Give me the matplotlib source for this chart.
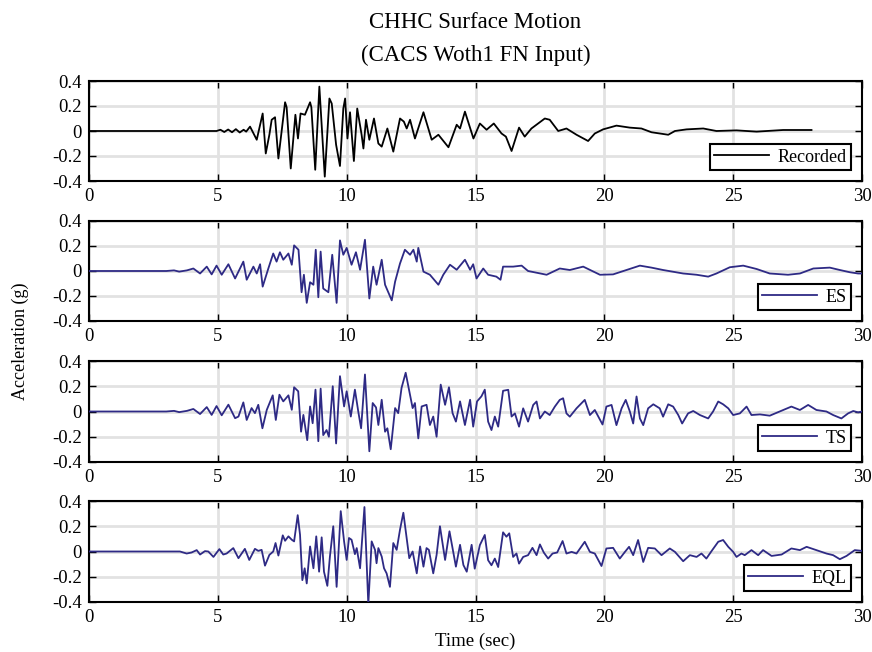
import matplotlib

matplotlib.use("Agg")

import matplotlib.pyplot as plt

plt.rcParams["font.family"] = ["Liberation Serif", "DejaVu Serif"]

# Digitised surface acceleration (g) vs time (sec)
time_rec = [
    0.0, 3.0, 4.95, 5.1, 5.25, 5.4, 5.55, 5.7, 5.85, 6.0,
    6.1, 6.25, 6.51, 6.74, 6.86, 7.0, 7.09, 7.22, 7.35, 7.61,
    7.67, 7.83, 8.01, 8.11, 8.21, 8.38, 8.58, 8.63, 8.78, 8.94,
    9.15, 9.33, 9.42, 9.59, 9.74, 9.87, 9.94, 10.03, 10.13, 10.28,
    10.41, 10.58, 10.65, 10.75, 10.88, 11.06, 11.23, 11.36, 11.58, 11.81,
    12.07, 12.22, 12.33, 12.46, 12.65, 12.98, 13.30, 13.56, 13.95, 14.27,
    14.40, 14.59, 14.92, 15.17, 15.43, 15.71, 16.01, 16.18, 16.40, 16.69,
    16.91, 17.17, 17.69, 17.88, 18.21, 18.53, 18.92, 19.37, 19.63, 19.95,
    20.47, 20.99, 21.44, 21.83, 22.48, 22.74, 23.19, 23.84, 24.35, 25.13,
    25.91, 26.94, 28.04,
]
acc_rec = [
    0.0, 0.0, 0.0, 0.01, -0.008, 0.012, -0.01, 0.015, -0.012, 0.01,
    -0.005, 0.035, -0.07, 0.14, -0.18, -0.03, 0.09, 0.11, -0.22, 0.23,
    0.19, -0.30, 0.13, -0.06, 0.14, 0.13, 0.23, 0.19, -0.31, 0.355,
    -0.365, 0.26, 0.22, -0.11, -0.28, 0.18, 0.26, -0.06, 0.15, -0.24,
    0.18, -0.03, -0.14, 0.09, -0.07, 0.10, -0.10, -0.125, 0.02, -0.165,
    0.10, 0.075, 0.02, 0.09, -0.06, 0.15, -0.07, -0.03, -0.13, 0.05,
    0.02, 0.155, -0.06, 0.06, 0.01, 0.06, -0.02, -0.045, -0.16, 0.027,
    -0.045, 0.02, 0.10, 0.09, 0.0, 0.02, -0.03, -0.08, -0.02, 0.013,
    0.043, 0.027, 0.02, -0.01, -0.03, 0.0, 0.013, 0.02, 0.0, 0.005,
    -0.005, 0.008, 0.008,
]

time_es = [
    0.0, 3.0, 3.3, 3.5, 3.8, 4.05, 4.31, 4.57, 4.76, 4.95,
    5.15, 5.41, 5.67, 5.99, 6.12, 6.38, 6.51, 6.64, 6.74, 6.96,
    7.15, 7.28, 7.41, 7.54, 7.74, 7.87, 7.96, 8.13, 8.25, 8.34,
    8.45, 8.58, 8.71, 8.80, 8.90, 8.99, 9.09, 9.29, 9.44, 9.61,
    9.74, 9.87, 10.0, 10.19, 10.36, 10.52, 10.71, 10.88, 11.03, 11.16,
    11.36, 11.49, 11.75, 11.88, 12.07, 12.26, 12.46, 12.59, 12.72, 12.78,
    12.98, 13.23, 13.56, 13.75, 14.01, 14.27, 14.59, 14.79, 14.91, 15.04,
    15.30, 15.49, 15.81, 15.97, 16.07, 16.46, 16.79, 17.04, 17.76, 18.27,
    18.66, 19.18, 19.83, 20.34, 20.86, 21.38, 21.83, 22.28, 23.06, 23.58,
    24.03, 24.35, 24.87, 25.39, 25.91, 26.42, 27.13, 27.59, 28.11, 28.75,
    29.14, 29.53, 29.85, 30.0,
]
acc_es = [
    0.0, 0.0, 0.005, -0.005, 0.005, 0.02, -0.02, 0.035, -0.027, 0.043,
    -0.03, 0.054, -0.06, 0.075, -0.07, 0.035, -0.02, 0.054, -0.125, 0.02,
    0.14, 0.075, 0.15, 0.09, 0.14, 0.05, 0.205, 0.17, -0.17, -0.03,
    -0.255, -0.09, -0.11, 0.17, -0.21, 0.155, -0.14, -0.17, 0.13, -0.255,
    0.245, 0.13, 0.185, 0.05, 0.15, 0.01, 0.25, -0.22, 0.035, -0.11,
    0.09, -0.11, -0.235, -0.085, 0.06, 0.17, 0.13, 0.17, 0.075, 0.185,
    -0.005, -0.03, -0.11, -0.03, 0.05, 0.01, 0.09, 0.01, 0.054, -0.06,
    0.02, -0.03, -0.045, -0.07, 0.035, 0.035, 0.043, 0.0, -0.03, 0.02,
    0.008, 0.035, -0.03, -0.027, 0.008, 0.043, 0.027, 0.008, -0.02, -0.03,
    -0.045, -0.02, 0.03, 0.043, 0.016, -0.02, -0.03, -0.02, 0.02, 0.027,
    0.008, -0.01, -0.02, -0.02,
]

time_ts = [
    0.0, 3.0, 3.3, 3.5, 3.8, 4.05, 4.31, 4.57, 4.76, 4.95,
    5.15, 5.41, 5.67, 5.80, 5.99, 6.12, 6.31, 6.44, 6.57, 6.73,
    6.90, 7.13, 7.25, 7.39, 7.54, 7.74, 7.87, 7.96, 8.12, 8.23,
    8.32, 8.47, 8.58, 8.68, 8.79, 8.90, 8.99, 9.09, 9.22, 9.31,
    9.46, 9.59, 9.74, 9.90, 10.0, 10.16, 10.32, 10.45, 10.56, 10.71,
    10.88, 11.01, 11.14, 11.23, 11.36, 11.49, 11.58, 11.71, 11.88, 12.0,
    12.13, 12.29, 12.46, 12.56, 12.65, 12.78, 12.91, 13.10, 13.23, 13.36,
    13.49, 13.65, 13.82, 13.97, 14.11, 14.24, 14.40, 14.59, 14.79, 14.91,
    15.06, 15.23, 15.36, 15.49, 15.62, 15.75, 15.88, 16.07, 16.27, 16.40,
    16.53, 16.69, 16.85, 17.04, 17.24, 17.37, 17.50, 17.69, 17.88, 18.08,
    18.27, 18.40, 18.53, 18.66, 18.92, 19.24, 19.44, 19.63, 19.93, 20.08,
    20.28, 20.47, 20.67, 20.83, 20.99, 21.12, 21.25, 21.38, 21.51, 21.70,
    21.90, 22.15, 22.28, 22.48, 22.67, 22.87, 23.02, 23.25, 23.45, 23.71,
    24.03, 24.22, 24.42, 24.61, 24.81, 25.0, 25.26, 25.52, 25.71, 26.04,
    26.42, 26.81, 27.26, 27.59, 27.91, 28.23, 28.62, 28.88, 29.20, 29.46,
    29.66, 29.85, 30.0,
]
acc_ts = [
    0.0, 0.0, 0.005, -0.005, 0.005, 0.02, -0.02, 0.035, -0.027, 0.043,
    -0.03, 0.054, -0.053, -0.04, 0.072, -0.067, 0.027, -0.013, 0.053, -0.133,
    0.013, 0.128, -0.067, 0.133, 0.08, 0.128, 0.013, 0.192, 0.16, -0.16,
    -0.027, -0.227, 0.04, -0.093, 0.173, -0.235, 0.181, -0.187, -0.147, -0.2,
    0.2, -0.253, 0.28, 0.04, 0.16, -0.04, 0.173, 0.0, -0.133, 0.293,
    -0.315, 0.067, 0.032, -0.107, 0.093, -0.16, -0.133, -0.299, 0.027, -0.013,
    0.187, 0.307, 0.133, 0.027, 0.067, -0.213, 0.04, 0.053, -0.107, -0.04,
    -0.2, 0.213, 0.053, 0.192, -0.013, -0.08, 0.08, -0.107, 0.093, -0.12,
    0.08, 0.12, 0.173, -0.08, -0.147, -0.04, -0.12, 0.164, 0.172, -0.04,
    -0.015, -0.12, 0.025, -0.08, 0.052, 0.079, -0.055, 0.0, -0.028, 0.039,
    0.092, 0.105, -0.015, -0.041, 0.025, 0.092, -0.028, 0.012, -0.103, 0.039,
    0.052, -0.108, 0.025, 0.092, 0.0, -0.095, 0.119, -0.055, -0.108, 0.025,
    0.057, 0.025, -0.041, 0.057, 0.039, -0.028, -0.095, -0.015, 0.004, -0.028,
    -0.055, 0.0, 0.079, 0.057, 0.025, -0.028, -0.015, 0.039, -0.028, -0.023,
    -0.033, 0.0, 0.039, 0.012, 0.052, 0.012, 0.0, -0.028, -0.055, -0.015,
    0.004, -0.007, 0.0,
]

time_eql = [
    0.0, 3.53, 3.79, 3.98, 4.18, 4.31, 4.50, 4.63, 4.83, 5.06,
    5.21, 5.34, 5.60, 5.80, 6.05, 6.22, 6.44, 6.57, 6.70, 6.83,
    7.0, 7.15, 7.24, 7.35, 7.52, 7.61, 7.74, 7.87, 7.96, 8.10,
    8.19, 8.28, 8.37, 8.45, 8.58, 8.71, 8.82, 8.93, 9.03, 9.12,
    9.25, 9.35, 9.48, 9.61, 9.77, 9.90, 10.0, 10.09, 10.19, 10.32,
    10.39, 10.52, 10.69, 10.84, 10.97, 11.10, 11.16, 11.23, 11.36, 11.45,
    11.55, 11.68, 11.81, 11.94, 12.07, 12.20, 12.33, 12.43, 12.56, 12.72,
    12.85, 12.98, 13.10, 13.19, 13.36, 13.49, 13.62, 13.82, 13.99, 14.11,
    14.24, 14.40, 14.53, 14.66, 14.85, 14.97, 15.17, 15.36, 15.49, 15.62,
    15.75, 15.88, 16.07, 16.20, 16.31, 16.46, 16.59, 16.69, 16.85, 17.04,
    17.21, 17.37, 17.50, 17.65, 17.82, 17.99, 18.17, 18.38, 18.53, 18.73,
    18.92, 19.24, 19.44, 19.63, 19.89, 20.08, 20.34, 20.60, 20.80, 20.96,
    21.12, 21.31, 21.51, 21.70, 21.96, 22.22, 22.54, 22.74, 23.06, 23.32,
    23.58, 23.77, 23.96, 24.16, 24.42, 24.61, 24.81, 25.0, 25.13, 25.32,
    25.45, 25.71, 25.97, 26.16, 26.49, 26.88, 27.26, 27.59, 27.85, 28.23,
    28.62, 28.88, 29.14, 29.40, 29.72, 30.0,
]
acc_eql = [
    0.0, 0.0, -0.016, -0.008, 0.011, -0.024, 0.003, 0.0, -0.043, 0.019,
    -0.024, -0.016, 0.027, -0.053, 0.021, -0.067, 0.021, 0.005, 0.013, -0.112,
    -0.027, 0.0, 0.067, -0.032, 0.128, 0.085, 0.12, 0.093, 0.08, 0.288,
    0.133, -0.227, -0.133, -0.253, 0.04, -0.133, 0.12, -0.16, 0.112, -0.16,
    -0.272, -0.04, 0.2, -0.28, 0.32, 0.08, -0.067, 0.107, 0.093, -0.021,
    0.027, -0.133, 0.352, -0.42, 0.08, 0.013, -0.093, 0.027, -0.04, -0.133,
    -0.173, -0.28, 0.067, 0.013, 0.173, 0.307, 0.107, -0.053, 0.0, -0.173,
    0.04, -0.12, 0.027, 0.013, -0.173, -0.027, 0.2, -0.067, 0.16, 0.027,
    -0.12, 0.053, -0.107, -0.16, 0.053, -0.136, 0.051, 0.131, -0.069, -0.109,
    -0.056, -0.123, 0.152, 0.117, 0.144, -0.043, -0.016, -0.096, -0.043, -0.029,
    0.029, -0.029, 0.056, -0.008, -0.056, -0.016, -0.008, 0.083, -0.016, -0.003,
    -0.016, 0.077, -0.003, -0.016, -0.115, 0.024, 0.029, -0.056, -0.003, 0.037,
    -0.029, 0.091, -0.083, 0.029, 0.024, -0.029, 0.024, -0.003, -0.077, -0.029,
    -0.043, -0.016, -0.056, 0.003, 0.077, 0.091, 0.037, -0.003, -0.043, -0.016,
    -0.029, 0.011, -0.029, 0.011, -0.035, -0.024, 0.024, 0.011, 0.037, 0.011,
    -0.016, -0.029, -0.061, -0.035, 0.011, 0.005,
]

labels = ["Recorded", "ES", "TS", "EQL"]
series = [(time_rec, acc_rec), (time_es, acc_es), (time_ts, acc_ts), (time_eql, acc_eql)]
colors = ["black", "#2e2a85", "#2e2a85", "#2e2a85"]

x_ticks = [0, 5, 10, 15, 20, 25, 30]
y_ticks = [-0.4, -0.2, 0, 0.2, 0.4]
y_ticklabels = ["-0.4", "-0.2", "0", "0.2", "0.4"]

fig = plt.figure(figsize=(8.72, 6.52), dpi=100)

# axes boxes in pixels (top, bottom) of the 872x652 canvas
boxes = [(81, 181), (221, 321), (361, 462), (501, 602)]
left, right = 89, 862

for (top, bot), (t, a), lab, col in zip(boxes, series, labels, colors):
    ax = fig.add_axes([left / 872, 1 - bot / 652, (right - left) / 872, (bot - top) / 652])
    ax.plot(t, a, color=col, lw=1.3, label=lab, zorder=3)
    ax.set_xlim(0, 30)
    ax.set_ylim(-0.4, 0.4)
    ax.set_xticks(x_ticks)
    ax.set_yticks(y_ticks)
    ax.set_yticklabels(y_ticklabels)
    ax.grid(True, color="#e2e2e2", lw=2)
    ax.set_axisbelow(True)
    ax.tick_params(direction="in", length=5, width=1, top=True, right=True,
                   labelsize=13.5, pad=5)
    for s in ax.spines.values():
        s.set_linewidth(1.5)
    leg = ax.legend(loc="lower right", fontsize=13, handlelength=3.0,
                    fancybox=False, framealpha=1, borderaxespad=0.6,
                    borderpad=0.25, handletextpad=0.5)
    leg.get_frame().set_edgecolor("black")
    leg.get_frame().set_linewidth(1.5)

fig.text(475.5 / 872, 1 - 22 / 652, "CHHC Surface Motion", ha="center", va="center", fontsize=16.5)
fig.text(475.5 / 872, 1 - 55 / 652, "(CACS Woth1 FN Input)", ha="center", va="center", fontsize=16.5)
fig.text(20 / 872, 1 - 341 / 652, "Acceleration (g)", rotation=90, ha="center", va="center", fontsize=13)
fig.text(475.5 / 872, 1 - 641 / 652, "Time (sec)", ha="center", va="center", fontsize=13.5)

fig.savefig("out.png", dpi=100)
plt.close(fig)
